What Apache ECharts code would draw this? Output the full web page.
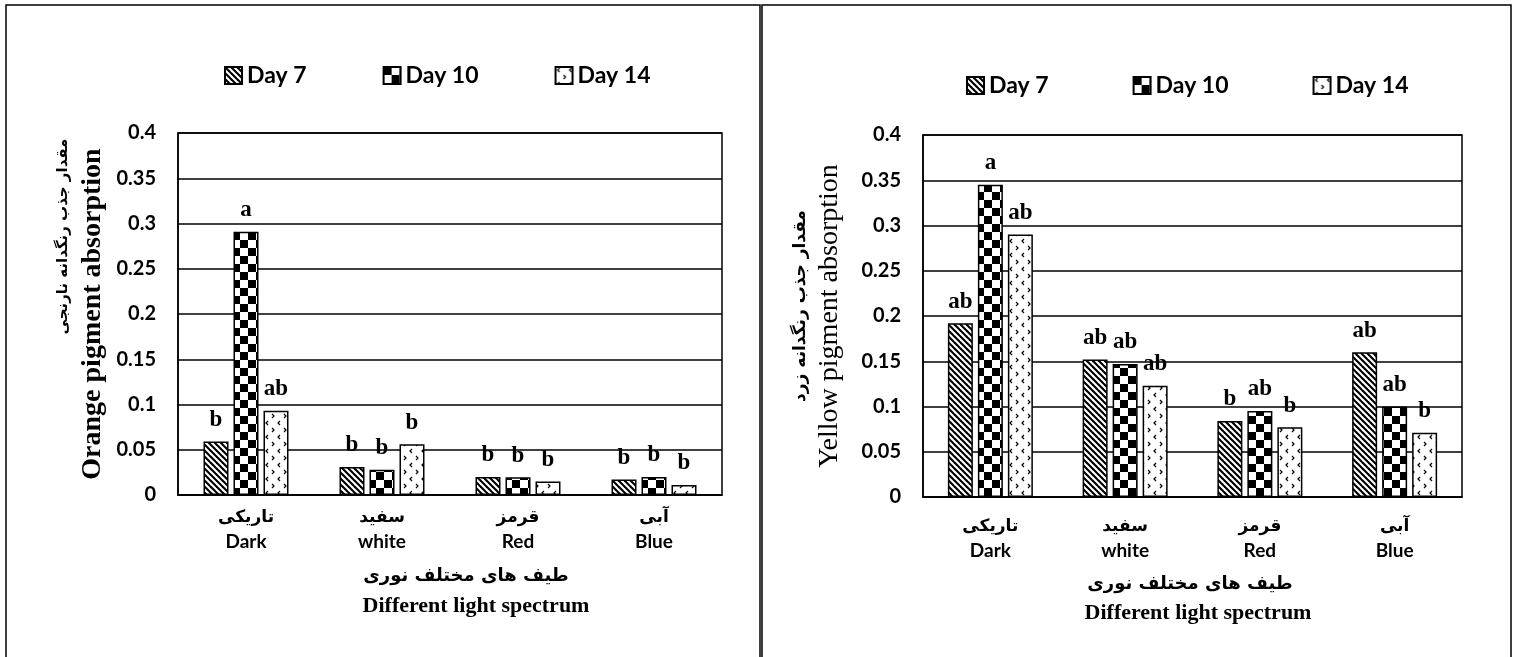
<!DOCTYPE html>
<html><head><meta charset="utf-8">
<script src="https://cdn.jsdelivr.net/npm/echarts@6/dist/echarts.min.js"></script>
<style>html,body{margin:0;padding:0;background:#fff}#c{width:1516px;height:657px}</style>
</head><body><div id="c"></div>
<script>
// ---------- data ----------
const categoriesFa = ['تاریکی', 'سفید', 'قرمز', 'آبی'];
const categoriesEn = ['Dark', 'white', 'Red', 'Blue'];
const seriesNames = ['Day 7', 'Day 10', 'Day 14'];

const orangeDay7  = [0.059, 0.031, 0.020, 0.017];
const orangeDay10 = [0.291, 0.028, 0.0195, 0.020];
const orangeDay14 = [0.093, 0.056, 0.015, 0.011];
const orangeLetters7  = ['b', 'b', 'b', 'b'];
const orangeLetters10 = ['a', 'b', 'b', 'b'];
const orangeLetters14 = ['ab', 'b', 'b', 'b'];

const yellowDay7  = [0.192, 0.152, 0.084, 0.160];
const yellowDay10 = [0.345, 0.147, 0.095, 0.100];
const yellowDay14 = [0.290, 0.123, 0.077, 0.071];
const yellowLetters7  = ['ab', 'ab', 'b', 'ab'];
const yellowLetters10 = ['a', 'ab', 'ab', 'ab'];
const yellowLetters14 = ['ab', 'ab', 'b', 'b'];

const yMin = 0, yMax = 0.4, yStep = 0.05;

const orangeYNameFa = 'مقدار جذب رنگدانه نارنجی';
const orangeYNameEn = 'Orange pigment absorption';
const yellowYNameFa = 'مقدار جذب رنگدانه زرد';
const yellowYNameEn = 'Yellow pigment absorption';
const xNameFa = 'طیف های مختلف نوری';
const xNameEn = 'Different light spectrum';

// ---------- patterns ----------
function stripeTile() {
  const c = document.createElement('canvas'); c.width = 6; c.height = 6;
  const g = c.getContext('2d');
  g.fillStyle = '#fff'; g.fillRect(0, 0, 6, 6);
  g.strokeStyle = '#000'; g.lineWidth = 2.1;
  for (const k of [-6, 0, 6]) { g.beginPath(); g.moveTo(k - 1, -1); g.lineTo(k + 7, 7); g.stroke(); }
  return c;
}
function checkerTile() {
  const s = 8;
  const c = document.createElement('canvas'); c.width = 2 * s; c.height = 2 * s;
  const g = c.getContext('2d');
  g.fillStyle = '#fff'; g.fillRect(0, 0, 2 * s, 2 * s);
  g.fillStyle = '#000'; g.fillRect(0, 0, s, s); g.fillRect(s, s, s, s);
  return c;
}
function dotTile() {
  const c = document.createElement('canvas'); c.width = 12; c.height = 14;
  const g = c.getContext('2d');
  g.fillStyle = '#fff'; g.fillRect(0, 0, 12, 14);
  g.strokeStyle = '#000'; g.lineWidth = 1.2;
  g.beginPath(); g.moveTo(4, 1); g.lineTo(2, 3); g.lineTo(4, 5); g.stroke();
  g.beginPath(); g.moveTo(8, 8); g.lineTo(10, 10); g.lineTo(8, 12); g.stroke();
  return c;
}
const fills = [
  { image: stripeTile(), repeat: 'repeat' },
  { image: checkerTile(), repeat: 'repeat' },
  { image: dotTile(), repeat: 'repeat' }
];

// ---------- options ----------
const labelFont = { fontFamily: 'Liberation Serif', fontWeight: 'bold', fontSize: 23, color: '#000' };

function barSeries(name, idx, data, letters, axisIndex) {
  return {
    type: 'bar', name: name, xAxisIndex: axisIndex, yAxisIndex: axisIndex,
    data: data, barWidth: 25, barGap: '20%',
    itemStyle: { color: fills[idx], borderColor: '#000', borderWidth: 1.5 },
    label: Object.assign({ show: true, position: 'top', distance: 10,
      formatter: p => letters[p.dataIndex] }, labelFont),
    emphasis: { disabled: true },
    animation: false
  };
}

function xAxis(gridIndex, margin) {
  return {
    type: 'category', gridIndex: gridIndex, data: categoriesEn,
    axisLine: { lineStyle: { color: '#000', width: 1.5 } },
    axisTick: { show: false },
    axisLabel: {
      margin: margin, interval: 0,
      formatter: (v, i) => '{fa|' + categoriesFa[i] + '}\n{en|' + v + '}',
      rich: {
        fa: { fontFamily: 'DejaVu Sans', fontWeight: 'bold', fontSize: 17, lineHeight: 24, color: '#000' },
        en: { fontFamily: 'Lato', fontWeight: 'bold', fontSize: 19, lineHeight: 24, color: '#000' }
      }
    }
  };
}

function yAxis(gridIndex, nameFa, nameEn, enWeight, gap, faSize, faPad) {
  return {
    type: 'value', gridIndex: gridIndex, min: yMin, max: yMax, interval: yStep,
    axisLine: { show: true, lineStyle: { color: '#000', width: 1.5 } },
    axisTick: { show: false },
    splitLine: { lineStyle: { color: '#000', width: 1.5 } },
    axisLabel: { margin: 22, fontFamily: 'Lato', fontWeight: 'bold', fontSize: 20, color: '#000' },
    name: '{fa|' + nameFa + '}\n{en|' + nameEn + '}',
    nameLocation: 'middle', nameRotate: 90, nameGap: gap,
    nameTextStyle: {
      rich: {
        fa: { fontFamily: 'DejaVu Sans', fontWeight: 'bold', fontSize: faSize, lineHeight: 29, color: '#000', padding: [0, 0, 0, faPad] },
        en: { fontFamily: 'Liberation Serif', fontWeight: enWeight, fontSize: 28, lineHeight: 29, color: '#000' }
      }
    }
  };
}

const legendBase = {
  data: seriesNames, icon: 'rect', itemWidth: 17, itemHeight: 17,
  textStyle: { fontFamily: 'Lato', fontWeight: 'bold', fontSize: 23, color: '#000' },
  selectedMode: false
};

const xNameStyle = (x, y, text, family, size) => ({
  type: 'text', x: x, y: y, silent: true,
  style: { text: text, fill: '#000', font: 'bold ' + size + 'px ' + family, align: 'center', verticalAlign: 'middle' }
});

const option = {
  backgroundColor: '#fff',
  animation: false,
  legend: [
    Object.assign({ left: 219, top: 59, itemGap: 76 }, legendBase),
    Object.assign({ left: 961, top: 69, itemGap: 84 }, legendBase)
  ],
  grid: [
    { left: 178, top: 133, width: 544, height: 362, show: true, borderColor: '#000', borderWidth: 1.5 },
    { left: 923, top: 135, width: 539, height: 362, show: true, borderColor: '#000', borderWidth: 1.5 }
  ],
  xAxis: [xAxis(0, 11), xAxis(1, 18)],
  yAxis: [
    yAxis(0, orangeYNameFa, orangeYNameEn, 'bold', 71, 15, 155),
    yAxis(1, yellowYNameFa, yellowYNameEn, 'normal', 79, 17, 20)
  ],
  series: [
    barSeries(seriesNames[0], 0, orangeDay7, orangeLetters7, 0),
    barSeries(seriesNames[1], 1, orangeDay10, orangeLetters10, 0),
    barSeries(seriesNames[2], 2, orangeDay14, orangeLetters14, 0),
    barSeries(seriesNames[0], 0, yellowDay7, yellowLetters7, 1),
    barSeries(seriesNames[1], 1, yellowDay10, yellowLetters10, 1),
    barSeries(seriesNames[2], 2, yellowDay14, yellowLetters14, 1)
  ],
  graphic: [
    { type: 'rect', silent: true, shape: { x: 6, y: 5, width: 754, height: 700 }, style: { fill: 'none', stroke: '#000', lineWidth: 1.5 } },
    { type: 'rect', silent: true, shape: { x: 762, y: 5, width: 749, height: 700 }, style: { fill: 'none', stroke: '#000', lineWidth: 1.5 } },
    xNameStyle(466, 576, xNameFa, 'DejaVu Sans', 18),
    xNameStyle(476, 606, xNameEn, 'Liberation Serif', 22),
    xNameStyle(1190, 584, xNameFa, 'DejaVu Sans', 18),
    xNameStyle(1198, 613, xNameEn, 'Liberation Serif', 22)
  ]
};

echarts.init(document.getElementById('c'), null, { renderer: 'canvas' }).setOption(option);
</script>
</body></html>
